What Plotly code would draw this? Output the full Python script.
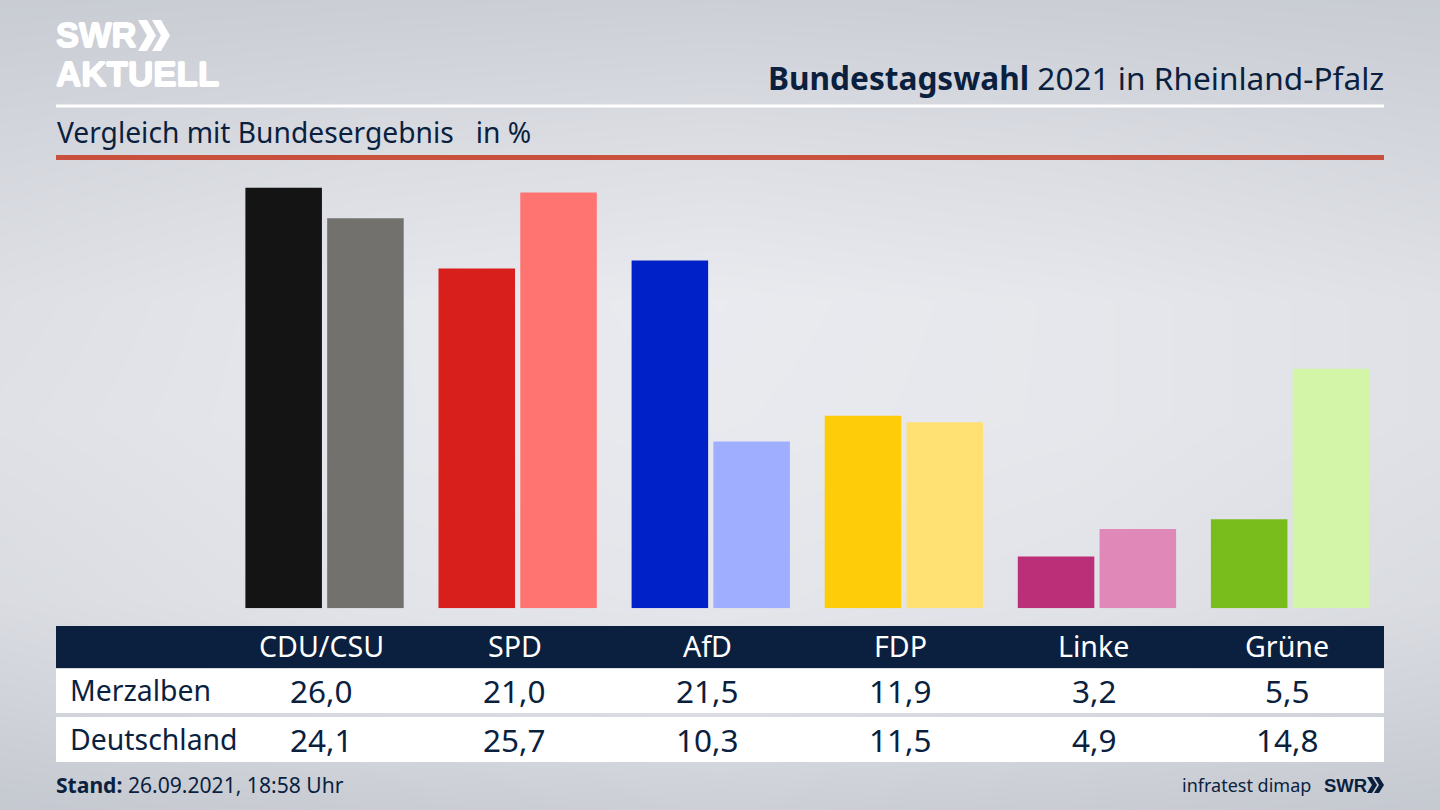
import plotly.graph_objects as go

parties = ["CDU/CSU", "SPD", "AfD", "FDP", "Linke", "Grüne"]
merzalben = [26.0, 21.0, 21.5, 11.9, 3.2, 5.5]
deutschland = [24.1, 25.7, 10.3, 11.5, 4.9, 14.8]
merzalben_colors = ["#141414", "#d81f1c", "#0021c8", "#ffcc0a", "#bb2f78", "#78bd1c"]
deutschland_colors = ["#72716e", "#ff7370", "#9faeff", "#ffe072", "#e088b8", "#d2f5a8"]
row_names = ["Merzalben", "Deutschland"]
title_bold = "Bundestagswahl"
title_rest = " 2021 in Rheinland-Pfalz"
subtitle = "Vergleich mit Bundesergebnis   in %"

bg_x = [0, 360, 720, 1080, 1440]
bg_y = [0, 150, 300, 420, 600, 700, 810]
bg_z = [
    [200, 202, 204, 202, 200],
    [212, 218, 221, 218, 212],
    [222, 231, 235, 231, 224],
    [224, 231, 234, 231, 224],
    [218, 227, 230, 226, 218],
    [208, 218, 221, 216, 208],
    [196, 200, 204, 200, 196],
]

NAVY = "#0b1f3f"
FONT = "Noto Sans"

fig = go.Figure()
fig.add_trace(go.Heatmap(x=bg_x, y=bg_y, z=bg_z, zsmooth="best", showscale=False, hoverinfo="skip",
                         zmin=190, zmax=240,
                         colorscale=[[0, "#bfc3cb"], [1, "#eeeff3"]],
                         xaxis="x", yaxis="y"))
fig.add_trace(go.Bar(x=parties, y=merzalben, name=row_names[0], marker=dict(color=merzalben_colors, line_width=0),
                     xaxis="x2", yaxis="y2"))
fig.add_trace(go.Bar(x=parties, y=deutschland, name=row_names[1], marker=dict(color=deutschland_colors, line_width=0),
                     xaxis="x2", yaxis="y2"))


def rect(x0, y0, x1, y1, color):
    return dict(type="rect", xref="x", yref="y", x0=x0, y0=y0, x1=x1, y1=y1,
                fillcolor=color, line_width=0, layer="above")


def chevrons(x, top, bottom, w, gap, color):
    mid = (top + bottom) / 2
    out = []
    for i in range(2):
        xs = x + i * gap
        th = w * 0.5
        path = (f"M{xs},{top} L{xs+th},{top} L{xs+w},{mid} L{xs+th},{bottom} L{xs},{bottom} "
                f"L{xs+w-th},{mid} Z")
        out.append(dict(type="path", xref="x", yref="y", path=path, fillcolor=color, line_width=0, layer="above"))
    return out


shapes = [
    rect(56, 104.5, 1384, 107.5, "#ffffff"),
    rect(56, 155, 1384, 160, "#c8503c"),
    rect(56, 626, 1384, 668, NAVY),
    rect(56, 669, 1384, 713, "#ffffff"),
    rect(56, 717, 1384, 762, "#ffffff"),
]
shapes += chevrons(138, 20, 51, 18, 14, "#ffffff")
shapes += chevrons(1367, 777, 793, 10, 7, NAVY)


def note(text, x, y, size, color=NAVY, anchor="left", xref="x", family=FONT, xshift=0, shadow=None):
    font = dict(size=size, color=color, family=family)
    if shadow:
        font["shadow"] = shadow
    return dict(text=text, x=x, y=y, xref=xref, yref="y", showarrow=False, xanchor=anchor, yanchor="middle",
                font=font, borderpad=0, borderwidth=0, xshift=xshift)


THICK = "0.7px 0 0 #ffffff, -0.7px 0 0 #ffffff, 0 0.7px 0 #ffffff, 0 -0.7px 0 #ffffff"
ann = [
    note(f"<b>{title_bold}</b>{title_rest}", 1384, 77, 31.6, anchor="right"),
    note(subtitle, 57, 131.5, 28.2),
    note("<b>SWR</b>", 56, 34.5, 34.5, "#ffffff", family="Liberation Sans", shadow=THICK),
    note("<b>AKTUELL</b>", 56, 73, 35, "#ffffff", family="Liberation Sans", shadow=THICK),
    note("<b>Stand:</b> 26.09.2021, 18:58 Uhr", 56, 784.5, 21.1),
    note("infratest dimap", 1311, 785, 18, anchor="right"),
    note("<b>SWR</b>", 1324, 785, 18.5, family="Liberation Sans"),
    note(row_names[0], 70, 690, 28.4),
    note(row_names[1], 70, 738.5, 28.4),
]
for i, p in enumerate(parties):
    ann.append(note(p, i, 645.5, 28.6, "#ffffff", "center", "x2", xshift=-3))
    ann.append(note(f"{merzalben[i]:.1f}".replace(".", ","), i, 690, 31.5, NAVY, "center", "x2", xshift=-3))
    ann.append(note(f"{deutschland[i]:.1f}".replace(".", ","), i, 739, 31.5, NAVY, "center", "x2", xshift=-3))

fig.update_layout(
    width=1440, height=810, margin=dict(l=0, r=0, t=0, b=0, pad=0), showlegend=False,
    paper_bgcolor="#d8dae0", plot_bgcolor="rgba(0,0,0,0)",
    barmode="group", bargap=0.153, bargroupgap=0.064,
    xaxis=dict(range=[0, 1440], domain=[0, 1], visible=False, fixedrange=True),
    yaxis=dict(range=[810, 0], domain=[0, 1], visible=False, fixedrange=True),
    xaxis2=dict(domain=[228 / 1440, 1386.6 / 1440], range=[-0.5, 5.5], visible=False, anchor="y2",
                type="category", categoryorder="array", categoryarray=parties),
    yaxis2=dict(domain=[(810 - 608.2) / 810, (810 - 187.6) / 810], range=[0, 26], visible=False, anchor="x2"),
    shapes=shapes, annotations=ann,
)
fig.write_html("out.html", config=dict(displayModeBar=False),
               post_script="document.body.style.margin='0';")
